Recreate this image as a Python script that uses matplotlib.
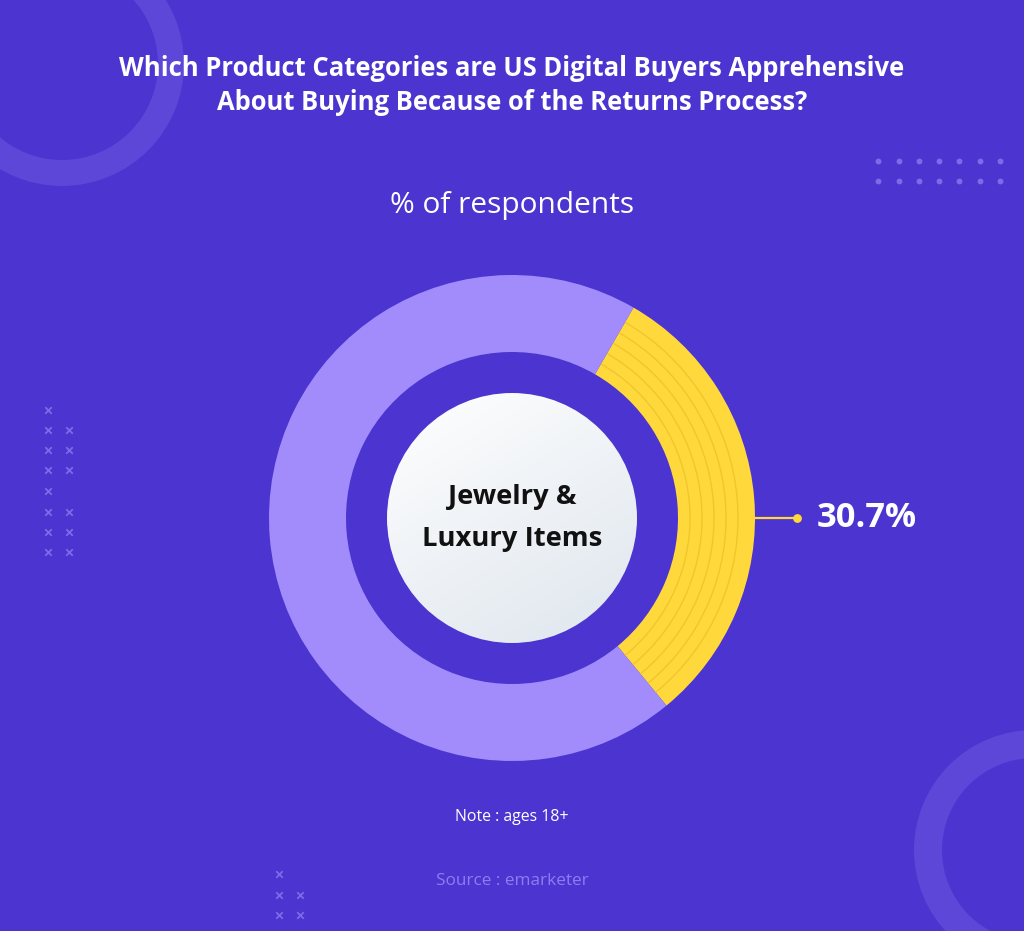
import numpy as np
import matplotlib
matplotlib.use("Agg")
import matplotlib.pyplot as plt
from matplotlib.patches import Circle, Arc

# ---- data ----
categories = ["Jewelry & Luxury Items", "Other"]
values = [30.7, 69.3]
highlight_label = "30.7%"
title_lines = ["Which Product Categories are US Digital Buyers Apprehensive",
               "About Buying Because of the Returns Process?"]
subtitle = "% of respondents"
note = "Note : ages 18+"
source = "Source : emarketer"

# ---- style ----
BG = "#4B34CF"
LAV = "#A28CFB"
YEL = "#FFD93B"
YEL_LINE = "#F0C62C"
DECO = "#5C47D8"
MARK = "#7C6AE8"
W, H = 1024, 931
FONT = "Open Sans"

fig = plt.figure(figsize=(W / 100, H / 100), dpi=100, facecolor=BG)
ax = fig.add_axes([0, 0, 1, 1])
ax.set_facecolor(BG)

def Y(py):
    return H - py

# decorative rings
ax.add_patch(Circle((62, Y(64)), 109, fill=False, lw=26 * 0.72, ec=DECO, zorder=1))
ax.add_patch(Circle((1034, Y(850)), 106, fill=False, lw=28 * 0.72, ec=DECO, zorder=1))

# dots top-right
dot_x = [878, 899, 919, 939, 959, 980, 1000]
for yy in [161, 181]:
    ax.scatter(dot_x, [Y(yy)] * len(dot_x), s=18, c=MARK, lw=0, zorder=2)

# x marks left
xm_rows = [410, 430, 450, 470, 491, 512, 532, 552]
xm_two = [False, True, True, True, False, True, True, True]
for yy, two in zip(xm_rows, xm_two):
    xs = [48, 69] if two else [48]
    ax.scatter(xs, [Y(yy)] * len(xs), s=22, marker="x", c=MARK, lw=1.3, zorder=2)
# x marks bottom
for yy, two in zip([874, 895, 915], [False, True, True]):
    xs = [279, 300] if two else [279]
    ax.scatter(xs, [Y(yy)] * len(xs), s=22, marker="x", c=MARK, lw=1.3, zorder=2)

# donut
cx, cy = 512, Y(518)
R_out, R_in = 243, 166
start = 60
ax.pie(values, colors=[YEL, LAV], startangle=start, counterclock=False,
       radius=R_out, center=(cx, cy),
       wedgeprops=dict(width=R_out - R_in, edgecolor="none"))
theta_end = start
theta_start = start - values[0] / sum(values) * 360
for r in [178, 190, 202, 214, 226]:
    ax.add_patch(Arc((cx, cy), 2 * r, 2 * r, theta1=theta_start, theta2=theta_end,
                     color=YEL_LINE, lw=1.0, zorder=3))

# white center circle with gradient
R_w = 125
gx = np.linspace(0, 1, 200)
GX, GY = np.meshgrid(gx, gx)
t = np.clip((0.6 * GX + 1.0 * GY) / 1.6, 0, 1)
c0 = np.array([1.0, 1.0, 1.0])
c1 = np.array([0.87, 0.90, 0.93])
img = c0[None, None, :] * (1 - t[..., None]) + c1[None, None, :] * t[..., None]
im = ax.imshow(img, extent=(cx - R_w, cx + R_w, cy - R_w, cy + R_w), origin="upper", zorder=4)
im.set_clip_path(Circle((cx, cy), R_w, transform=ax.transData))

texts = []
def txt(x, py, s, size, target_w, **kw):
    t = ax.text(x, Y(py), s, fontsize=size, family=FONT, **kw)
    texts.append((t, target_w))
    return t

txt(cx, 497, "Jewelry &", 18, None, ha="center", va="center",
    fontweight="bold", color="#111111", zorder=5)
txt(cx, 539, "Luxury Items", 18, 181, ha="center", va="center",
    fontweight="bold", color="#111111", zorder=5)

# leader line and label
ax.plot([cx + R_out, 797], [cy, cy], color=YEL, lw=1.6, zorder=3)
ax.scatter([797], [cy], s=40, c=YEL, lw=0, zorder=3)
txt(817, 518, highlight_label, 24, 100, ha="left", va="center",
    fontweight="bold", color="white")

# titles
txt(512, 68, title_lines[0], 17, 785, ha="center", va="center",
    fontweight="bold", color="white")
txt(512, 103, title_lines[1], 17, None, ha="center", va="center",
    fontweight="bold", color="white")
txt(512, 206, subtitle, 20, 244, ha="center", va="center", color="white")
txt(512, 817, note, 11, 114, ha="center", va="center", color="white")
txt(512, 881, source, 12, 151, ha="center", va="center", color="#8E7DF2")

ax.set_xlim(0, W)
ax.set_ylim(0, H)
ax.set_aspect("auto")
ax.axis("off")

# fit font sizes to measured widths of the reference
fig.canvas.draw()
r = fig.canvas.get_renderer()
for t, tw in texts:
    if tw:
        w = t.get_window_extent(r).width
        t.set_fontsize(t.get_fontsize() * tw / w)
texts[0][0].set_fontsize(texts[1][0].get_fontsize())
texts[4][0].set_fontsize(texts[3][0].get_fontsize())

fig.savefig("out.png", dpi=100, facecolor=BG)
